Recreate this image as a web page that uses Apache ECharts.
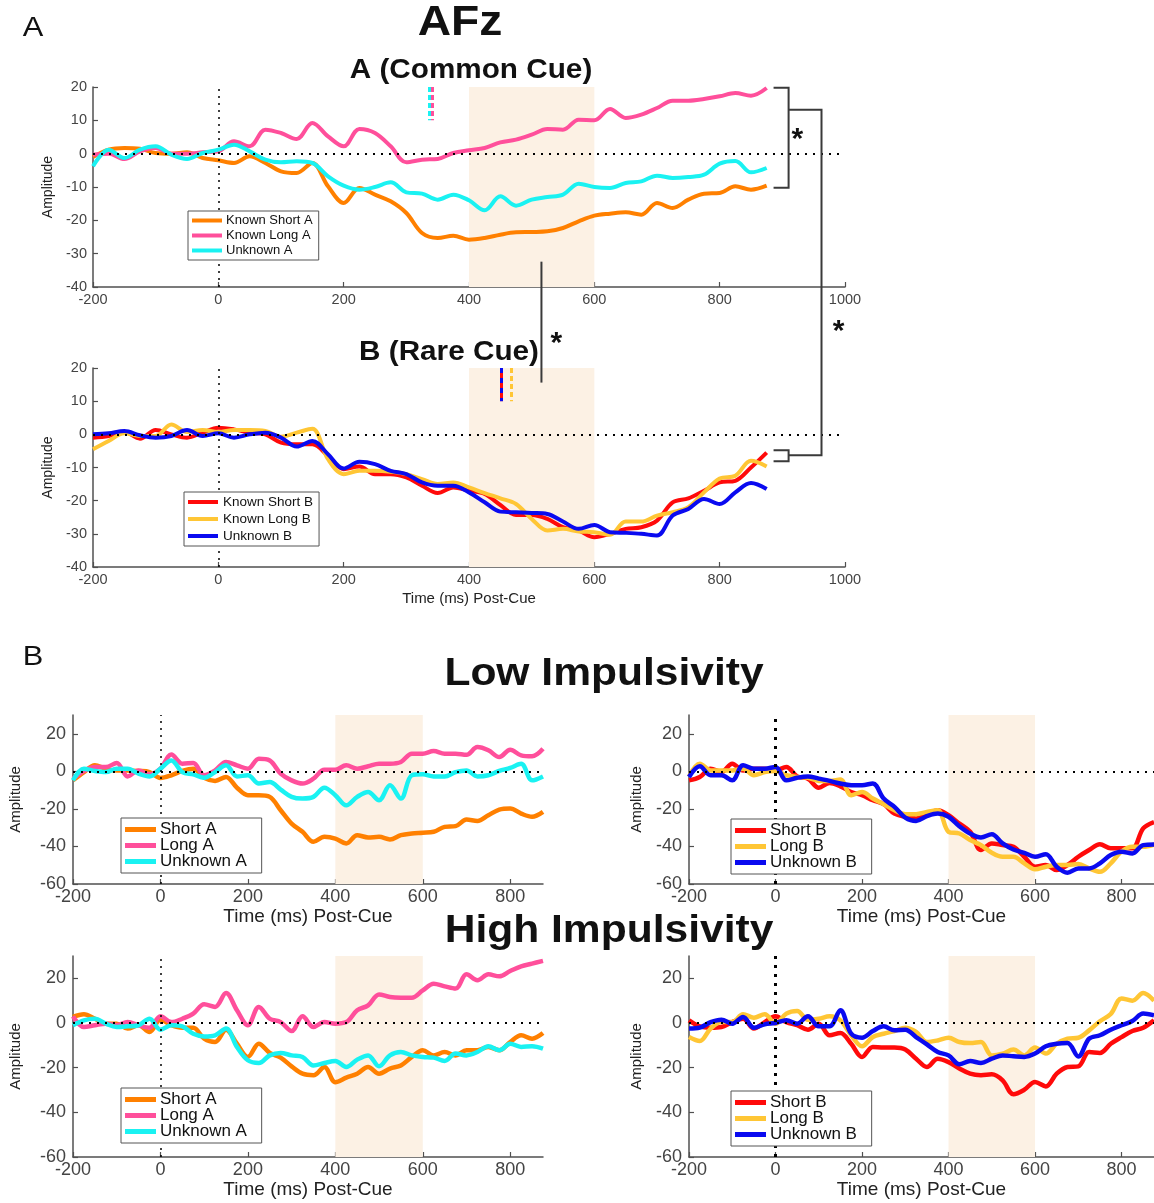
<!DOCTYPE html>
<html><head><meta charset="utf-8">
<script src="https://cdn.jsdelivr.net/npm/echarts@6/dist/echarts.min.js"></script>
<style>html,body{margin:0;padding:0;background:#fff}#c{width:1154px;height:1203px}</style>
</head><body><div id="c"></div>
<script>
// ---------- DATA ----------
const time = [-200,-175,-150,-125,-100,-75,-50,-25,0,25,50,75,100,125,150,175,200,225,250,275,300,325,350,375,400,425,450,475,500,525,550,575,600,625,650,675,700,725,750,775,800,825,850,875];
const xTicks = [-200,0,200,400,600,800];
const yTicksTop = [-40,-30,-20,-10,0,10,20];
const yTicksLow = [-60,-40,-20,0,20];

// AFz common cue (A)
const commonShortA = [-1,1.2,1.7,1.5,0.2,0,0.4,-1.3, -2,-2.8,-0.8,-2.8,-5.3,-5.8,-2.8,-9.8, -14.8,-10.3,-12.3,-14.3,-17.8,-23.8,-25.3,-24.6, -25.8,-25.3,-24.3,-23.6,-23.5,-23.3,-22.3,-20.3, -18.6,-18,-17.6,-18.3,-14.8,-16.3,-13.8,-12, -11.8,-9.8,-10.8,-9.6];
const commonLongA = [-0.3,0,-1.6,0.7,1.7,0,0,0.4, 0.7,3.7,2.2,7.2,6.2,4.4,9.2,5.2, 2.2,7.4,6.2,2.2,-2.6,-1.8,-1.6,0.2, 1,1.7,3.4,4.2,5.7,7.4,7.2,10.2, 10,13.4,10.7,11.7,13.7,15.9,15.9,16.4, 17.2,18.2,17.4,19.7];
const commonUnknownA = [-3.8,1.2,-1.3,1.2,2.2,-0.3,-1.6,0.2, 1.2,2.7,0.7,-1.8,-2.6,-2.3,-2.8,-6.8, -9.6,-10.8,-10,-8.6,-11.6,-12,-13.8,-12.3, -14,-17,-12.8,-15.6,-13.8,-13,-12.3,-9, -10,-10.3,-8.8,-8.3,-6.6,-7.3,-7,-6.3, -3,-2.2,-5.6,-4.3];
// AFz rare cue (B)
const rareShortB = [-1,-0.5,0.7,-1.3,1.3,0,-1,0.5, 2,1.5,0.5,0,-2.5,-3,-3,-6.5, -10.5,-9.7,-12,-12,-13,-15.5,-17.7,-16, -17,-18,-21.3,-24.3,-24.3,-25.5,-28,-29, -31,-30,-28.5,-28,-26,-20.5,-19.3,-17, -14.5,-14,-10,-5.5];
const rareLongB = [-4.5,-2,0.3,-0.5,-0.5,3,0.7,1.3, 0.7,1.3,1.3,1,-0.7,0.5,1.7,-7.5, -12,-11,-11,-11.3,-12,-13.5,-15,-14.5, -16,-17.7,-19.3,-21,-25.5,-29,-28.5,-29.3, -29.5,-30.3,-26.3,-26.3,-24.5,-23.5,-22,-17.5, -13.3,-12.5,-8,-9.7];
const rareUnknownB = [0,0.3,1,-0.3,-1,-0.5,1.3,-0.5, 0.3,-1,0,0.5,-1,-3.7,-2,-6, -10.3,-8.3,-9,-11,-12,-14.5,-15.5,-15.5, -17.5,-20.5,-23.3,-23.5,-23.7,-24,-26.3,-28.5, -27.3,-29.5,-29.7,-30,-30.5,-24.5,-22.5,-19.5, -21,-17.5,-14.7,-16.5];
// Low impulsivity
const lowShortA = [-4.8,-0.4,3.2,1.4,0.5,0.5,0.2,-0.4, -3.5,-2.1,0.2,1.4,-3.4,-5.1,-3,-8.7, -12.7,-12.7,-13.6,-20.7,-27.8,-32.2,-37.5,-34.9, -35.8,-38.4,-34,-35.2,-34.9,-36.3,-34,-33.1, -32.7,-32.2,-29.6,-29.2,-25.7,-26.4,-23.4,-20.4, -19.8,-22.5,-24.2,-21.6];
const lowLongA = [-3.9,0.2,2.3,2.3,4.4,-2.7,0.5,-1.6, 1.4,9,4.1,4.4,-2.1,0.5,5,3.2, 1.4,6.7,5.8,-1.2,-4.8,-6.5,-3.9,0.9, 0.9,3.2,1.4,2.7,4.1,4.1,5,9.4, 9.4,10.8,9.4,9.4,8.8,12.9,11.2,7.6, 11.5,8.5,8,12];
const lowUnknownA = [-4.8,1.4,0.2,-0.4,1.4,1.4,-1.2,-2.7, 1.4,5.8,-0.4,-1.6,-3.4,-0.4,3.2,-2.7, -2.1,-6.5,-5.7,-9.7,-13.6,-14.5,-13.6,-8.7, -12.7,-18.1,-13.6,-11,-15.4,-7.4,-14.5,-2.1, -1.6,-2.7,-2.7,-0.4,0.5,-2.7,-2.1,0.2, 1.8,4,-4.8,-2.7];
const lowShortB = [-4.8,-3,1.4,-0.4,4.1,0.5,1.4,1.4, 0.5,2.3,-2.7,-3.9,-8.7,-6.2,-8,-11, -12.7,-15.4,-17.5,-22.5,-24.2,-25.1,-22.8,-20.7, -23.4,-27.8,-32.2,-41.9,-38.4,-39.3,-40.2,-45.5, -50.8,-49.9,-52.6,-49.9,-45.5,-41.9,-38.8,-41, -41,-41,-30.4,-27];
const lowLongB = [-2.7,4.1,0.5,0.5,0.5,1.4,-2.1,-0.4, 0.2,-2.1,-3,-3.4,-5.1,-5.1,-4.4,-12.7, -11,-14.5,-17.5,-20.7,-22.8,-22.8,-21.6,-20.7, -32.2,-33.1,-36.6,-39.3,-43.4,-45.5,-45.5,-49, -52.2,-50.8,-49.9,-49.9,-49.4,-51.7,-53.5,-49, -42.7,-40.2,-40.2,-39];
const lowUnknownB = [-3,2.7,-2.1,-2.1,-4.8,3.2,1.4,1.4, 2.3,-4.8,-3.4,-2.7,-3.9,-5.1,-6.5,-7.4, -7.4,-6.5,-14.5,-18.9,-24.6,-26.4,-23.9,-22.5, -24.2,-29.2,-33.1,-35.2,-33.5,-38.4,-41.6,-43.4, -45.5,-44.1,-50.8,-54,-51.7,-51.7,-49,-44.6, -42.8,-43.7,-39.3,-39];
// High impulsivity
const highShortA = [2.7,3.9,1.9,-0.3,-0.3,-2.5,-1,-4, 1.5,-1,-2.1,-2.1,-7,-8.5,-3,-9.3, -15.2,-9.3,-13.4,-15.5,-19.4,-22.7,-23.4,-19.7, -26.5,-24.5,-22.7,-19.7,-22.7,-20.4,-19,-15.2, -12.2,-14.5,-13,-14.5,-12.2,-12.2,-10.7,-12.2, -8.5,-5.5,-7,-4.5];
const highLongA = [3,-1.8,-1,-0.3,-1,0.4,-1,-2.1, 3,0.4,1.9,4.2,8.4,7.2,13.4,5.7, -1,7.2,1.9,0.4,-3.6,3,-1.8,0.4, -0.3,0.4,5.7,7.9,12.8,11.6,11.3,11.3, 14.6,17.6,16.4,15.4,21.8,19.1,21.8,20.9, 23.3,25.4,26.6,27.8];
const highUnknownA = [-1,1.2,1.9,-0.3,-1.8,-1.5,-1,1.9, -3,-1,-1.5,-4.8,-6,-5.5,-2.5,-10.7, -16.7,-17.9,-14.5,-13.4,-14.5,-15.2,-19,-17.9, -17,-19.7,-16.4,-14.5,-19.4,-14.5,-13,-14.5, -15.2,-15.5,-17,-13.7,-14.5,-13,-10.4,-12.2, -9.3,-10.7,-10.4,-11.5];
const highShortB = [1.2,-1.5,-2.1,-1.8,0.4,1.9,-2.5,0.4, 3,0.4,-1,-3,-0.3,-5.5,-4.5,-9.3, -15.2,-10.7,-11,-11,-11.9,-16,-19.7,-16, -17.5,-20.4,-22.7,-23.4,-23,-25.7,-31.9,-29.9, -26.4,-28.4,-22.7,-19.7,-19.4,-13,-13.4,-9.3, -6.3,-3.6,-2.1,1.2];
const highLongB = [-6.3,-8.1,-2.5,0.4,0.4,3.9,2.4,3.9, -0.3,4.2,5.4,1.5,1.9,3,1.2,-5.5, -10.4,-6.3,-4.8,-3.6,-2.1,-4,-8.5,-7.8, -6.6,-8.5,-9,-8.5,-14.5,-13.7,-11.9,-14.5, -11,-13.7,-9.3,-7,-6.6,-3.3,0.8,4, 11,10,13.4,10];
const highUnknownB = [-2.5,-2.1,0.4,1.5,-0.3,2.7,-2.1,-0.6, 0,1.2,-0.3,3,-1.5,-1.5,5.7,-4.8, -6.6,-3.6,-1.5,-3.3,-3,-6.3,-9.6,-13, -14.5,-18.5,-17,-17.9,-16,-14.5,-14.9,-15.2, -13.7,-10.4,-9.3,-9,-15,-7,-5.5,-3, -1,0.9,4.2,3.4];

// shaded analysis window (ms)
const windowMs = [400, 600];
// annotation markers (data units)
const sigCommon = [336, 341];      // cyan / pink dotted markers, 20 -> 10
const sigRare = [452, 468];        // red-blue / yellow dotted markers, 20 -> 10

// ---------- STYLE ----------
const FONT = '"Liberation Sans", Arial, Helvetica, sans-serif';
const C = {orange:'#FF8000', pink:'#FF4F9B', cyan:'#1AF2F2', red:'#FF0A0A', yellow:'#FFC635', blue:'#0A0AF0'};
const AX = '#505050';

const grids = [
  {left:93, top:87, width:752, height:200},
  {left:93, top:368, width:752, height:199},
  {left:73, top:715, width:470, height:169},
  {left:689, top:715, width:470, height:169},
  {left:73, top:956, width:470, height:201},
  {left:689, top:956, width:470, height:201}
];

function xAxisFor(i){
  const top = i < 2;
  return {
    type:'value', gridIndex:i, min:-200, max: top ? 1000 : 875, interval:200,
    name: i === 0 ? '' : 'Time (ms) Post-Cue', nameLocation:'middle', nameGap: top ? 24 : 23,
    nameTextStyle:{fontFamily:FONT, fontSize: top ? 15 : 19, color:'#222'},
    axisLine:{onZero:false, lineStyle:{color:AX, width:1.5}},
    axisTick: top ? {inside:true, length:5, lineStyle:{color:AX, width:1.2}} : {inside:true, length:5, customValues:xTicks, lineStyle:{color:AX, width:1.2}},
    axisLabel: top ? {fontFamily:FONT, fontSize:14.5, color:'#444', margin:5, formatter:v => String(v)} : {fontFamily:FONT, fontSize:18, color:'#444', margin:4, customValues:xTicks, formatter:v => String(v)},
    splitLine:{show:false}
  };
}
function yAxisFor(i){
  const top = i < 2;
  return {
    type:'value', gridIndex:i, min: top ? -40 : -60, max: top ? 20 : 30, interval: top ? 10 : 20,
    name:'Amplitude', nameLocation:'middle', nameGap: top ? 38 : (i % 2 === 0 ? 50 : 45),
    nameTextStyle:{fontFamily:FONT, fontSize: top ? 14 : 15, color:'#222'},
    axisLine:{onZero:false, lineStyle:{color:AX, width:1.5}},
    axisTick: top ? {inside:true, length:5, lineStyle:{color:AX, width:1.2}} : {inside:true, length:5, customValues:yTicksLow, lineStyle:{color:AX, width:1.2}},
    axisLabel: top ? {fontFamily:FONT, fontSize:14.5, color:'#444', margin:6} : {fontFamily:FONT, fontSize:18, color:'#444', margin:7, customValues:yTicksLow},
    splitLine:{show:false}
  };
}

function line(name, vals, color, gi){
  return {
    type:'line', name, xAxisIndex:gi, yAxisIndex:gi,
    data: time.map((t, k) => [t, vals[k]]),
    smooth:0.35, showSymbol:false, symbol:'none', silent:true, z:3,
    lineStyle:{color, width: gi < 2 ? 4 : 4.5}, itemStyle:{color}
  };
}
function dotted(gi, extra){
  const thickV = gi === 3 || gi === 5;
  const data = [
    {yAxis:0, lineStyle:{type:[2,6], width:2, color:'#000'}},
    {xAxis:0, lineStyle:{type: thickV ? [3,6] : [2,5], width: thickV ? 3 : 1.5, color:'#000'}}
  ].concat(extra || []);
  return {
    type:'line', xAxisIndex:gi, yAxisIndex:gi, data:[], z:1, silent:true,
    markArea:{silent:true, itemStyle:{color:'#FCF1E4', opacity:1}, data:[[{xAxis:windowMs[0]},{xAxis:windowMs[1]}]]},
    markLine:{silent:true, symbol:'none', label:{show:false}, animation:false, data}
  };
}
function seg(x, color, dash, w){
  return [{coord:[x, 20], lineStyle:{color, width:w || 3, type:dash}}, {coord:[x, 10]}];
}

const series = [
  dotted(0, [seg(sigCommon[0], C.cyan, [5,3]), seg(sigCommon[1], C.pink, [5,3])]),
  dotted(1, [seg(sigRare[0], C.red, 'solid'), seg(sigRare[0], C.blue, [5,5]), seg(sigRare[1], C.yellow, [5,3])]),
  dotted(2), dotted(3), dotted(4), dotted(5),
  line('Known Short A', commonShortA, C.orange, 0),
  line('Known Long A', commonLongA, C.pink, 0),
  line('Unknown A', commonUnknownA, C.cyan, 0),
  line('Known Short B', rareShortB, C.red, 1),
  line('Known Long B', rareLongB, C.yellow, 1),
  line('Unknown B', rareUnknownB, C.blue, 1),
  line('Short A', lowShortA, C.orange, 2),
  line('Long A', lowLongA, C.pink, 2),
  line('Unknown A ', lowUnknownA, C.cyan, 2),
  line('Short B', lowShortB, C.red, 3),
  line('Long B', lowLongB, C.yellow, 3),
  line('Unknown B ', lowUnknownB, C.blue, 3),
  line('Short A', highShortA, C.orange, 4),
  line('Long A', highLongA, C.pink, 4),
  line('Unknown A ', highUnknownA, C.cyan, 4),
  line('Short B', highShortB, C.red, 5),
  line('Long B', highLongB, C.yellow, 5),
  line('Unknown B ', highUnknownB, C.blue, 5)
];

function legend(names, left, top, small){
  return {
    data:names, orient:'vertical', left, top, icon:'rect', selectedMode:false,
    itemWidth: small ? 30 : 31, itemHeight: small ? 4 : 5, itemGap: small ? 2 : -1,
    padding: small ? [3,6,3,4] : [3,10,3,4],
    borderColor:'#555', borderWidth:1, backgroundColor:'#fff', z:10,
    textStyle:{fontFamily:FONT, fontSize: small ? 13 : 17, color:'#111', lineHeight: small ? 13 : 15, padding:[0,0,0,-1]}
  };
}

const chart = echarts.init(document.getElementById('c'), null, {renderer:'canvas'});
chart.setOption({
  animation:false,
  backgroundColor:'#fff',
  grid: grids,
  xAxis: grids.map((g, i) => xAxisFor(i)),
  yAxis: grids.map((g, i) => yAxisFor(i)),
  legend: [
    legend(['Known Short A','Known Long A','Unknown A'], 188, 211, true),
    Object.assign(legend(['Known Short B','Known Long B','Unknown B'], 184, 492, true), {itemGap:3, textStyle:{fontFamily:FONT, fontSize:13.5, color:'#111', lineHeight:14}}),
    legend(['Short A','Long A','Unknown A '], 121, 818, false),
    legend(['Short B','Long B','Unknown B '], 731, 819, false),
    legend(['Short A','Long A','Unknown A '], 121, 1088, false),
    legend(['Short B','Long B','Unknown B '], 731, 1091, false)
  ],
  series
});

// ---------- annotations (titles, significance brackets) ----------
function title(text, x, y, size, bold, sx){
  return {type:'text', x, y, scaleX: sx || 1, z:20, silent:true,
    style:{text, font:(bold ? 'bold ' : '') + size + 'px ' + FONT, fill:'#111',
      align:'center', verticalAlign:'middle', textAlign:'center', textVerticalAlign:'middle'}};
}
const P0 = (x, y) => chart.convertToPixel({gridIndex:0}, [x, y]);
const P1 = (x, y) => chart.convertToPixel({gridIndex:1}, [x, y]);
const brk = {xIn:886, xOut:910, xFar:962.5, aTop:19.8, aBot:-10.2, aMid:13.2, bTop:-4.8, bBot:-8.1, bMid:-6.3};
const midBar = {x:515.6, yA:-32.4, yB:15.6};
const lineSty = {stroke:'#3a3a3a', lineWidth:2, fill:null};
function poly(points){ return {type:'polyline', z:20, silent:true, shape:{points}, style:lineSty}; }
function star(p){ return {type:'text', x:p[0], y:p[1] + 7, z:20, silent:true,
  style:{text:'*', font:'bold 30px ' + FONT, fill:'#111', align:'center', verticalAlign:'middle', textAlign:'center', textVerticalAlign:'middle'}}; }

chart.setOption({graphic:[
  title('A', 33, 28, 28, false, 1.1),
  title('AFz', 460, 23, 42, true, 1.1),
  title('A (Common Cue)', 471, 71, 27, true, 1.1),
  title('B (Rare Cue)', 449, 353, 27, true, 1.1),
  title('B', 33, 657, 28, false, 1.1),
  title('Low Impulsivity', 604, 675, 38, true, 1.12),
  title('High Impulsivity', 609, 932, 38, true, 1.12),
  poly([P0(brk.xIn, brk.aTop), P0(brk.xOut, brk.aTop), P0(brk.xOut, brk.aBot), P0(brk.xIn, brk.aBot)]),
  poly([P0(brk.xOut, brk.aMid), P0(brk.xFar, brk.aMid), P1(brk.xFar, brk.bMid), P1(brk.xOut, brk.bMid)]),
  poly([P1(brk.xIn, brk.bTop), P1(brk.xOut, brk.bTop), P1(brk.xOut, brk.bBot), P1(brk.xIn, brk.bBot)]),
  poly([P0(midBar.x, midBar.yA), P1(midBar.x, midBar.yB)]),
  star(P0(924, 6.3)),
  star(P0(989.6, -51.4)),
  star(P0(539.5, -55))
]});
</script>
</body></html>
